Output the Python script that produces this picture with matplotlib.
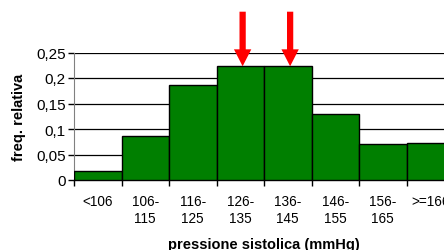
import numpy as np
import matplotlib
matplotlib.use('Agg')
import matplotlib.pyplot as plt

plt.rcParams['font.family'] = ['Liberation Sans', 'DejaVu Sans']

classi = ['<106', '106-\n115', '116-\n125', '126-\n135', '136-\n145',
          '146-\n155', '156-\n165', '>=166']
freq = [0.017, 0.086, 0.187, 0.223, 0.223, 0.129, 0.070, 0.072]
frecce = [3, 4]   # classi indicate dalle frecce
yticks = [0, 0.05, 0.1, 0.15, 0.2, 0.25]
ylabels = ['0', '0,05', '0,1', '0,15', '0,2', '0,25']

fig = plt.figure(figsize=(4.44, 2.51), dpi=100)
ax = fig.add_axes([74/444, 70/251, 380/444, 127.5/251])

x = np.arange(len(freq))
ax.bar(x + 0.5, freq, width=1.0, color='#007f00', edgecolor='black', linewidth=1, zorder=3)

ax.set_xlim(0, len(freq))
ax.set_ylim(0, 0.25)
ax.set_yticks(yticks)
ax.set_yticklabels(ylabels, fontsize=11)
ax.yaxis.grid(True, color='black', linewidth=0.9, zorder=0)

ax.set_xticks(np.arange(len(freq) + 1))
ax.set_xticklabels([])
ax.set_xticks(x + 0.5, minor=True)
ax.set_xticklabels(classi, minor=True, fontsize=9.8, linespacing=1.25, va='top')
ax.tick_params(axis='x', which='minor', length=0, pad=10)
ax.tick_params(axis='x', which='major', length=4, width=1, direction='out')
ax.tick_params(axis='y', length=4, width=1, direction='out', pad=2)

for s in ['top', 'right']:
    ax.spines[s].set_visible(False)
ax.spines['left'].set_color('#808080')
ax.spines['bottom'].set_linewidth(1)

ax.set_ylabel('freq. relativa', fontsize=10.5, fontweight='bold', labelpad=7)
ax.set_xlabel('pressione sistolica (mmHg)', fontsize=10.5, fontweight='bold', labelpad=9)

for i in frecce:
    ax.annotate('', xy=(i + 0.55, freq[i]), xytext=(i + 0.55, 0.33),
                arrowprops=dict(arrowstyle='simple,head_length=1.22,head_width=1.25,tail_width=0.45',
                                mutation_scale=10, fc='#ff0000', ec='none',
                                shrinkA=0, shrinkB=0),
                annotation_clip=False, zorder=5)

fig.savefig('out.png', dpi=100)
